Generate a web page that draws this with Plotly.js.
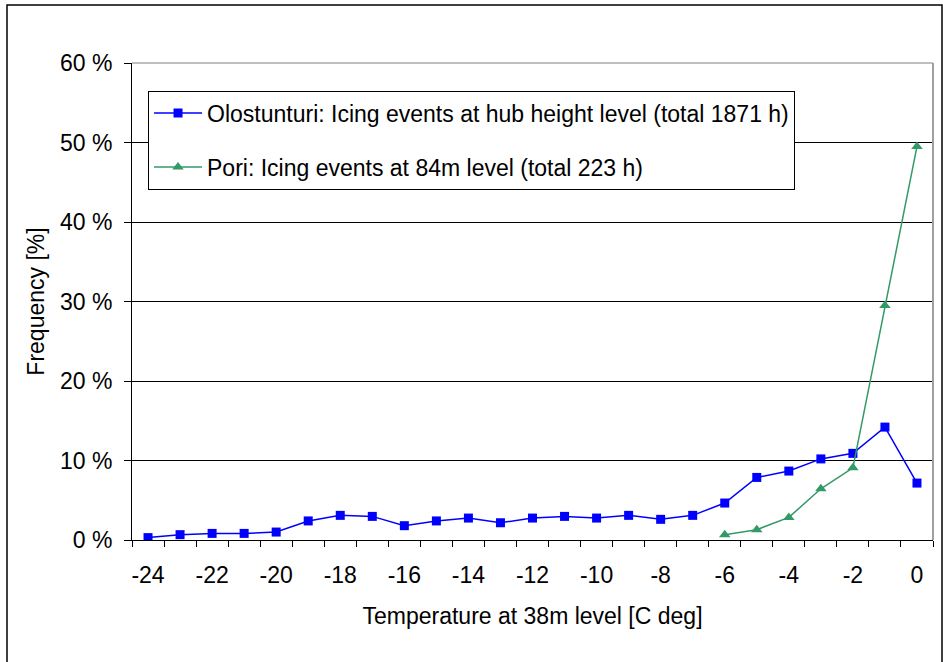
<!DOCTYPE html>
<html>
<head>
<meta charset="utf-8">
<script src="https://cdn.plot.ly/plotly-3.0.1.min.js"></script>
<style>
  html, body { margin: 0; padding: 0; background: #ffffff; }
  #chart { width: 943px; height: 662px; }
</style>
</head>
<body>
<div id="chart"></div>
<script>
// ---- data ----
var olosTemps = [-24, -23, -22, -21, -20, -19, -18, -17, -16, -15, -14, -13, -12,
                 -11, -10, -9, -8, -7, -6, -5, -4, -3, -2, -1, 0];
var olosFreq = [0.3, 0.67, 0.83, 0.83, 1.0, 2.4, 3.1, 2.97, 1.8, 2.4, 2.76, 2.17, 2.76,
                2.97, 2.76, 3.1, 2.6, 3.1, 4.65, 7.87, 8.67, 10.2, 10.9, 14.2, 7.16];
var poriTemps = [-6, -5, -4, -3, -2, -1, 0];
var poriFreq = [0.67, 1.3, 2.84, 6.44, 9.08, 29.5, 49.5];
var xTickVals = [-24, -22, -20, -18, -16, -14, -12, -10, -8, -6, -4, -2, 0];
var xTickText = ['-24', '-22', '-20', '-18', '-16', '-14', '-12', '-10', '-8', '-6', '-4', '-2', '0'];
var yTickVals = [0, 10, 20, 30, 40, 50, 60];
var yTickText = ['0 %', '10 %', '20 %', '30 %', '40 %', '50 %', '60 %'];
var olosName = 'Olostunturi: Icing events at hub height level (total 1871 h)';
var poriName = 'Pori: Icing events at 84m level (total 223 h)';
var xTitle = 'Temperature at 38m level [C deg]';
var yTitle = 'Frequency [%]';

// category boundaries (Excel-style tick marks between categories)
var boundaries = olosTemps.map(function (t) { return t - 0.5; });
boundaries.push(olosTemps[olosTemps.length - 1] + 0.5);

var FONT = 'Liberation Sans, Arial, sans-serif';

var traces = [
  {
    x: olosTemps, y: olosFreq, name: olosName, type: 'scatter', mode: 'lines+markers',
    line: { color: '#0000FF', width: 1.5 },
    marker: { symbol: 'square', size: 9, color: '#0000FF' },
    legendgroup: 'a'
  },
  {
    x: poriTemps, y: poriFreq, name: poriName, type: 'scatter', mode: 'lines+markers',
    line: { color: '#339966', width: 1.5 },
    marker: { symbol: 'triangle-up', size: 10, color: '#339966' },
    legendgroup: 'b'
  }
];

var layout = {
  width: 943, height: 662,
  margin: { l: 132, r: 10, t: 63, b: 122, pad: 0 },
  paper_bgcolor: '#ffffff', plot_bgcolor: '#ffffff',
  font: { family: FONT, size: 23, color: '#000000' },
  showlegend: true,
  hovermode: false,
  xaxis: {
    range: [boundaries[0], boundaries[boundaries.length - 1]],
    tickmode: 'array', tickvals: xTickVals, ticktext: xTickText,
    ticks: '', showgrid: false, zeroline: false,
    showline: true, linecolor: '#000000', linewidth: 1,
    ticklabelstandoff: 14,
    tickfont: { family: FONT, size: 23, color: '#000000' },
    minor: { tickmode: 'array', tickvals: boundaries, ticks: 'outside', ticklen: 6,
             tickcolor: '#000000', tickwidth: 1, showgrid: false },
    title: { text: xTitle, font: { family: FONT, size: 23, color: '#000000' }, standoff: 21 },
    fixedrange: true
  },
  yaxis: {
    range: [0, 60],
    tickmode: 'array', tickvals: yTickVals, ticktext: yTickText,
    ticks: 'outside', ticklen: 7, tickcolor: '#000000', tickwidth: 1,
    showgrid: true, gridcolor: '#000000', gridwidth: 1,
    zeroline: false,
    showline: true, linecolor: '#000000', linewidth: 1,
    ticklabelstandoff: 7,
    tickfont: { family: FONT, size: 23, color: '#000000' },
    title: { text: yTitle, font: { family: FONT, size: 23, color: '#000000' }, standoff: 8 },
    fixedrange: true
  },
  legend: {
    x: 0.02, y: 0.942, xanchor: 'left', yanchor: 'top',
    bgcolor: '#ffffff', bordercolor: '#000000', borderwidth: 1,
    font: { family: FONT, size: 23, color: '#000000' },
    traceorder: 'grouped', tracegroupgap: 21,
    itemwidth: 48
  },
  shapes: [
    // plot area frame (top and right, gray)
    { type: 'line', xref: 'paper', yref: 'paper', x0: 0, x1: 1, y0: 1, y1: 1,
      line: { color: '#808080', width: 1 }, layer: 'above' },
    { type: 'line', xref: 'paper', yref: 'paper', x0: 1, x1: 1, y0: 0, y1: 1,
      line: { color: '#a0a0a0', width: 2 }, layer: 'above' },
    // outer chart border
    { type: 'rect', xref: 'paper', yref: 'paper',
      x0: -0.15605, x1: 1.01124, y0: -0.2725, y1: 1.12159,
      line: { color: '#000000', width: 1.5 }, fillcolor: 'rgba(0,0,0,0)', layer: 'below' }
  ]
};

Plotly.newPlot('chart', traces, layout, { displayModeBar: false, staticPlot: true });
</script>
</body>
</html>
